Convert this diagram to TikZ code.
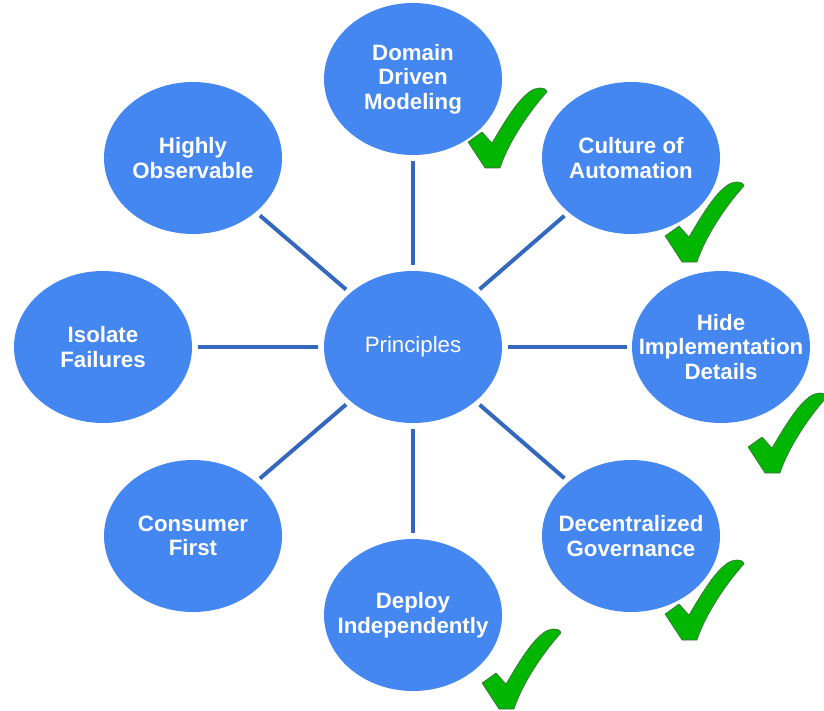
\documentclass[tikz,border=0pt]{standalone}
\usepackage{fontspec}
\setmainfont{Liberation Sans}
\usepackage{tikz}
\usetikzlibrary{shapes.geometric}
\definecolor{bubblefill}{RGB}{68,135,240}
\definecolor{spokeblue}{RGB}{52,104,190}
\definecolor{tickgreen}{RGB}{0,182,0}
\definecolor{tickedge}{RGB}{70,105,70}
\tikzset{
  bubble/.style={ellipse, fill=bubblefill, minimum width=5.34cm, minimum height=4.56cm, inner sep=0pt},
  caption/.style={text=white, font=\fontsize{19}{21}\selectfont\bfseries, align=center},
  plaincaption/.style={text=white, font=\fontsize{19}{21}\selectfont, align=center},
  spoke/.style={draw=spokeblue, line width=3.4pt, shorten <=4.5pt, shorten >=4.5pt},
  tick/.style={fill=tickgreen, draw=tickedge, line width=0.5pt}
}
\newcommand{\drawtick}[1]{%
  \filldraw[tick, shift={#1}] (0,-26) -- (14,-36) -- (24,-25)
    .. controls (34,-42) and (48,-66) .. (60,-75)
    .. controls (66,-81) and (78,-82) .. (79,-76)
    .. controls (66,-62) and (42,-30) .. (32,0) -- (17,0) -- cycle;}

\begin{document}
\begin{tikzpicture}[x=0.03cm, y=-0.03cm]
\clip (0,0) rectangle (824,710);
\node[bubble, label={[plaincaption]center:Principles}] (prin) at (413,347) {};
\node[bubble, label={[caption]center:{Domain\\Driven\\Modeling}}] (dom) at (413,79) {};
\node[bubble, label={[caption]center:{Culture of\\Automation}}] (cul) at (631,158) {};
\node[bubble, label={[caption]center:{Hide\\Implementation\\Details}}] (hid) at (721,347) {};
\node[bubble, label={[caption]center:{Decentralized\\Governance}}] (dec) at (631,536) {};
\node[bubble, label={[caption]center:{Deploy\\Independently}}] (dep) at (413,615) {};
\node[bubble, label={[caption]center:{Consumer\\First}}] (con) at (193,536) {};
\node[bubble, label={[caption]center:{Isolate\\Failures}}] (iso) at (103,347) {};
\node[bubble, label={[caption]center:{Highly\\Observable}}] (hig) at (193,158) {};
\draw[spoke] (prin) -- (dom);
\draw[spoke] (prin) -- (cul);
\draw[spoke] (prin) -- (hid);
\draw[spoke] (prin) -- (dec);
\draw[spoke] (prin) -- (dep);
\draw[spoke] (prin) -- (con);
\draw[spoke] (prin) -- (iso);
\draw[spoke] (prin) -- (hig);
\drawtick{(468,168)}
\drawtick{(665,262)}
\drawtick{(748,473)}
\drawtick{(665,640)}
\drawtick{(482,709)}
\end{tikzpicture}
\end{document}
